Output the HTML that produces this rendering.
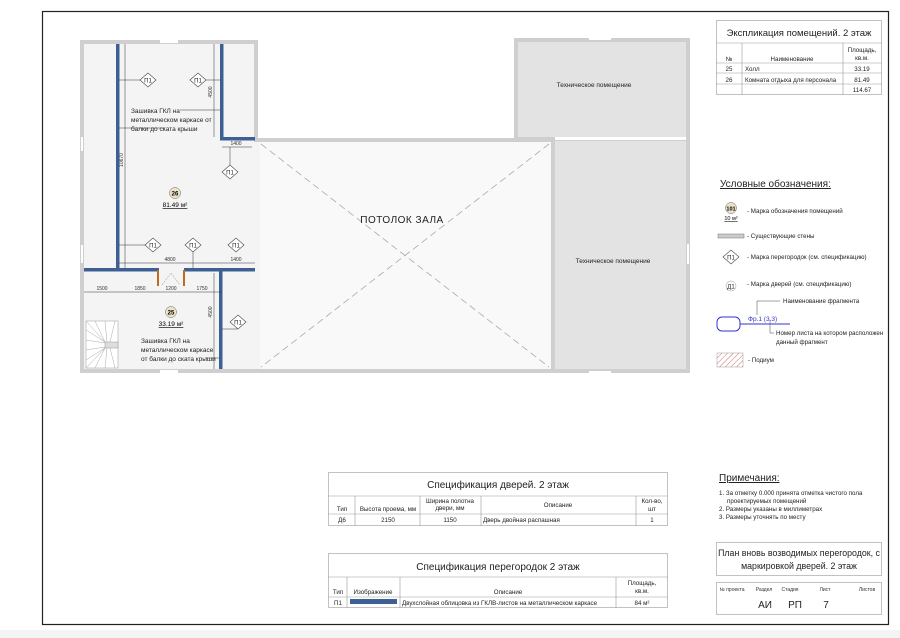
<!DOCTYPE html>
<html><head><meta charset="utf-8"><style>
body{margin:0;background:#f2f2f2;}
svg{display:block;font-family:"Liberation Sans",sans-serif;}
</style></head><body>
<svg width="900" height="638" viewBox="0 0 900 638" xmlns="http://www.w3.org/2000/svg">
<rect x="0" y="0" width="900" height="638" fill="#f4f4f4"/>
<rect x="0" y="0" width="900" height="630" fill="#fff"/>
<rect x="42.5" y="11.5" width="846" height="613" fill="#fff" stroke="#222" stroke-width="1.2"/>

<!-- left wing -->
<rect x="80" y="40" width="178" height="333" fill="#cfcfcf"/>
<rect x="84" y="44" width="170" height="325" fill="#f4f4f4"/>
<rect x="160" y="40" width="18" height="3" fill="#fff"/>
<rect x="160" y="370" width="18" height="3" fill="#fff"/>
<rect x="81" y="137" width="2" height="14" fill="#fff"/>
<rect x="81" y="245" width="2" height="18" fill="#fff"/>
<!-- tech rooms -->
<rect x="514" y="38" width="176" height="103" fill="#cfcfcf"/>
<rect x="551" y="138" width="139" height="235" fill="#cfcfcf"/>
<rect x="518" y="42" width="168" height="95" fill="#e3e3e3"/>
<rect x="555" y="141" width="131" height="228" fill="#e3e3e3"/>
<rect x="555" y="137" width="131" height="3" fill="#fff"/>
<rect x="589" y="38" width="22" height="2" fill="#fff"/>
<rect x="589" y="371" width="22" height="2" fill="#fff"/>
<rect x="687" y="244" width="2" height="20" fill="#fff"/>
<text x="594" y="87" font-size="6.5" text-anchor="middle" fill="#222">Техническое помещение</text>
<text x="613" y="263" font-size="6.5" text-anchor="middle" fill="#222">Техническое помещение</text>
<!-- hall -->
<rect x="255" y="138" width="300" height="235" fill="#cfcfcf"/>
<rect x="259" y="142" width="292" height="227" fill="#f9f9f9"/>
<rect x="254" y="142" width="6" height="227" fill="#f4f4f4"/>
<line x1="261" y1="144" x2="549" y2="367" stroke="#aaa" stroke-width="0.8" stroke-dasharray="7,4"/>
<line x1="549" y1="144" x2="261" y2="367" stroke="#aaa" stroke-width="0.8" stroke-dasharray="7,4"/>
<text x="402" y="223" font-size="10" text-anchor="middle" fill="#222" letter-spacing="0.5">ПОТОЛОК ЗАЛА</text>

<!-- partitions -->
<g fill="#3d5f93">
<rect x="116" y="44" width="3.5" height="226"/>
<rect x="220" y="44" width="3.5" height="96"/>
<rect x="220" y="137" width="35" height="3.5"/>
<rect x="84" y="268" width="75" height="3.5"/>
<rect x="184" y="268" width="71" height="3.5"/>
<rect x="219" y="271" width="3.5" height="98"/>
</g>
<rect x="157" y="270" width="2" height="16" fill="#c06a20"/>
<rect x="183" y="270" width="2" height="16" fill="#c06a20"/>
<path d="M162 285 L171 273 L180 285" fill="none" stroke="#888" stroke-width="0.5" stroke-dasharray="2,1"/>

<!-- dimension lines -->
<g stroke="#333" stroke-width="0.5" fill="none">
<line x1="125" y1="44" x2="125" y2="268"/>
<line x1="214" y1="44" x2="214" y2="137"/>
<line x1="222" y1="147" x2="252" y2="147"/>
<line x1="119" y1="263" x2="255" y2="263"/>
<line x1="84" y1="292" x2="222" y2="292"/>
<line x1="214" y1="273" x2="214" y2="369"/>
<line x1="119" y1="80" x2="141" y2="80"/>
<line x1="205" y1="80" x2="220" y2="80"/>
<line x1="180" y1="110" x2="220" y2="110"/>
<line x1="119" y1="128" x2="165" y2="128"/>
<line x1="230" y1="147" x2="230" y2="165"/>
<line x1="119" y1="245" x2="146" y2="245"/>
<line x1="193" y1="252" x2="193" y2="268"/>
<line x1="238" y1="329" x2="222" y2="329"/>
<line x1="205" y1="358" x2="219" y2="358"/>
</g>
<g font-size="5" fill="#333" text-anchor="middle">
<text x="170" y="261">4800</text><text x="236" y="261">1400</text>
<text x="102" y="290">1500</text><text x="140" y="290">1850</text><text x="171" y="290">1200</text><text x="202" y="290">1750</text>
<text x="236" y="145">1400</text>
<text transform="translate(212,92) rotate(-90)">4500</text>
<text transform="translate(212,312) rotate(-90)">4500</text>
<text transform="translate(123,160) rotate(-90)">10670</text>
</g>
<!-- diamonds -->
<g font-size="6" text-anchor="middle" fill="#222">
<g transform="translate(148,80)"><path d="M-8 0 L0 -7 L8 0 L0 7Z" fill="#fff" stroke="#444" stroke-width="0.6"/><text y="2.5">П1</text></g>
<g transform="translate(198,80)"><path d="M-8 0 L0 -7 L8 0 L0 7Z" fill="#fff" stroke="#444" stroke-width="0.6"/><text y="2.5">П1</text></g>
<g transform="translate(230,172)"><path d="M-8 0 L0 -7 L8 0 L0 7Z" fill="#fff" stroke="#444" stroke-width="0.6"/><text y="2.5">П1</text></g>
<g transform="translate(153,245)"><path d="M-8 0 L0 -7 L8 0 L0 7Z" fill="#fff" stroke="#444" stroke-width="0.6"/><text y="2.5">П1</text></g>
<g transform="translate(193,245)"><path d="M-8 0 L0 -7 L8 0 L0 7Z" fill="#fff" stroke="#444" stroke-width="0.6"/><text y="2.5">П1</text></g>
<g transform="translate(236,245)"><path d="M-8 0 L0 -7 L8 0 L0 7Z" fill="#fff" stroke="#444" stroke-width="0.6"/><text y="2.5">П1</text></g>
<g transform="translate(238,322)"><path d="M-8 0 L0 -7 L8 0 L0 7Z" fill="#fff" stroke="#444" stroke-width="0.6"/><text y="2.5">П1</text></g>
</g>
<g font-size="6.5" fill="#222">
<text x="131" y="113">Зашивка ГКЛ на</text>
<text x="131" y="122">металлическом каркасе  от</text>
<text x="131" y="131">балки до ската крыши</text>
<text x="141" y="343">Зашивка ГКЛ на</text>
<text x="141" y="352">металлическом каркасе</text>
<text x="141" y="361">от балки до ската крыши</text>
</g>
<circle cx="175" cy="193" r="5.5" fill="#ece3c8" stroke="#666" stroke-width="0.5"/>
<text x="175" y="195.5" font-size="6" font-weight="bold" text-anchor="middle">26</text>
<text x="175" y="207" font-size="6.5" text-anchor="middle" text-decoration="underline">81.49 м²</text>
<circle cx="171" cy="312" r="5.5" fill="#ece3c8" stroke="#666" stroke-width="0.5"/>
<text x="171" y="314.5" font-size="6" font-weight="bold" text-anchor="middle">25</text>
<text x="171" y="326" font-size="6.5" text-anchor="middle" text-decoration="underline">33.19 м²</text>
<!-- stairs -->
<rect x="86" y="321" width="32" height="47" fill="#fff" stroke="#999" stroke-width="0.5"/>
<g stroke="#aaa" stroke-width="0.5">
<line x1="86" y1="321" x2="105" y2="342"/><line x1="95" y1="321" x2="105" y2="342"/><line x1="105" y1="321" x2="107" y2="342"/>
<line x1="86" y1="330" x2="105" y2="342"/><line x1="86" y1="340" x2="105" y2="343"/>
<line x1="86" y1="350" x2="105" y2="347"/><line x1="86" y1="360" x2="105" y2="348"/>
<line x1="86" y1="368" x2="105" y2="348"/><line x1="95" y1="368" x2="105" y2="348"/><line x1="105" y1="368" x2="107" y2="348"/>
<line x1="115" y1="321" x2="110" y2="342"/><line x1="115" y1="368" x2="110" y2="348"/>
</g>
<rect x="105" y="342" width="13" height="6" fill="#ddd" stroke="#999" stroke-width="0.5"/>

<!-- explication table -->
<g stroke="#999" stroke-width="0.6" fill="none">
<rect x="716.5" y="20.5" width="165" height="74"/>
<line x1="716" y1="43" x2="882" y2="43"/><line x1="716" y1="63" x2="882" y2="63"/>
<line x1="716" y1="73" x2="882" y2="73"/><line x1="716" y1="84" x2="882" y2="84"/>
<line x1="742" y1="43" x2="742" y2="95"/><line x1="843" y1="43" x2="843" y2="95"/>
</g>
<g font-size="6.2" fill="#222">
<text x="799" y="36" font-size="9.5" text-anchor="middle">Экспликация помещений. 2 этаж</text>
<text x="729" y="61" text-anchor="middle">№</text>
<text x="792" y="61" text-anchor="middle">Наименование</text>
<text x="862" y="52" text-anchor="middle">Площадь,</text><text x="862" y="60" text-anchor="middle">кв.м.</text>
<text x="729" y="71" text-anchor="middle">25</text><text x="745" y="71">Холл</text><text x="862" y="71" text-anchor="middle">33.19</text>
<text x="729" y="82" text-anchor="middle">26</text><text x="745" y="82">Комната отдыха для персонала</text><text x="862" y="82" text-anchor="middle">81.49</text>
<text x="862" y="92" text-anchor="middle">114.67</text>
</g>

<!-- legend -->
<text x="720" y="187" font-size="10" fill="#222" text-decoration="underline">Условные обозначения:</text>
<circle cx="731" cy="208" r="5.5" fill="#ece3c8" stroke="#666" stroke-width="0.5"/>
<text x="731" y="210.5" font-size="5.5" font-weight="bold" text-anchor="middle">101</text>
<text x="731" y="220" font-size="5.5" text-anchor="middle" text-decoration="underline">10 м²</text>
<g font-size="6.2" fill="#222">
<text x="747" y="213">- Марка обозначения помещений</text>
<rect x="718" y="234" width="26" height="4" fill="#ccc" stroke="#777" stroke-width="0.5"/>
<text x="747" y="238">- Существующие стены</text>
<path d="M723 257 L731 250 L739 257 L731 264Z" fill="#fff" stroke="#444" stroke-width="0.6"/>
<text x="731" y="259.5" text-anchor="middle" font-size="6">П1</text>
<text x="747" y="259">- Марка перегородок (см. спецификацию)</text>
<circle cx="731" cy="286" r="5" fill="#fff" stroke="#999" stroke-width="0.5"/>
<text x="731" y="288.5" text-anchor="middle" font-size="6">Д1</text>
<text x="747" y="286">- Марка дверей (см. спецификацию)</text>
<text x="783" y="303">Наименование фрагмента</text>
<text x="776" y="335">Номер листа на котором расположен</text>
<text x="776" y="344">данный фрагмент</text>
<text x="748" y="362">- Подиум</text>
</g>
<line x1="757" y1="301" x2="780" y2="301" stroke="#444" stroke-width="0.5"/>
<line x1="757" y1="301" x2="757" y2="315" stroke="#444" stroke-width="0.5"/>
<line x1="770" y1="320" x2="770" y2="333" stroke="#444" stroke-width="0.5"/>
<line x1="770" y1="333" x2="774" y2="333" stroke="#444" stroke-width="0.5"/>
<rect x="717" y="317" width="23" height="14" rx="5" fill="none" stroke="#3333cc" stroke-width="1"/>
<line x1="740" y1="324" x2="790" y2="324" stroke="#3333cc" stroke-width="1"/>
<text x="748" y="321" font-size="6.5" fill="#3333cc">Фр.1 (3.3)</text>
<defs><pattern id="h" width="4" height="4" patternUnits="userSpaceOnUse" patternTransform="rotate(45)"><line x1="0" y1="0" x2="0" y2="4" stroke="#c87070" stroke-width="1"/></pattern></defs>
<rect x="717" y="353" width="26" height="14" fill="url(#h)" stroke="#999" stroke-width="0.5"/>

<!-- door spec -->
<g stroke="#999" stroke-width="0.6" fill="none">
<rect x="328.5" y="472.5" width="339" height="53"/>
<line x1="328" y1="496" x2="668" y2="496"/><line x1="328" y1="514" x2="668" y2="514"/>
<line x1="355" y1="496" x2="355" y2="526"/><line x1="420" y1="496" x2="420" y2="526"/>
<line x1="481" y1="496" x2="481" y2="526"/><line x1="636" y1="496" x2="636" y2="526"/>
</g>
<g font-size="6.2" fill="#222" text-anchor="middle">
<text x="498" y="488" font-size="10">Спецификация дверей. 2 этаж</text>
<text x="342" y="511">Тип</text><text x="388" y="511">Высота проема, мм</text>
<text x="450" y="503">Ширина полотна</text><text x="450" y="510">двери, мм</text>
<text x="558" y="507">Описание</text>
<text x="652" y="503">Кол-во,</text><text x="652" y="511">шт</text>
<text x="342" y="522">Д6</text><text x="388" y="522">2150</text><text x="450" y="522">1150</text>
<text x="483" y="522" text-anchor="start">Дверь двойная распашная</text><text x="652" y="522">1</text>
</g>
<!-- partition spec -->
<g stroke="#999" stroke-width="0.6" fill="none">
<rect x="328.5" y="553.5" width="339" height="54"/>
<line x1="328" y1="577" x2="668" y2="577"/><line x1="328" y1="597" x2="668" y2="597"/>
<line x1="347" y1="577" x2="347" y2="608"/><line x1="400" y1="577" x2="400" y2="608"/>
<line x1="616" y1="577" x2="616" y2="608"/>
</g>
<rect x="350" y="599" width="47" height="5" fill="#3d5f93"/>
<g font-size="6.2" fill="#222" text-anchor="middle">
<text x="498" y="570" font-size="10">Спецификация перегородок 2 этаж</text>
<text x="338" y="594">Тип</text><text x="373" y="594">Изображение</text><text x="508" y="594">Описание</text>
<text x="642" y="585">Площадь,</text><text x="642" y="593">кв.м.</text>
<text x="338" y="605">П1</text><text x="402" y="605" text-anchor="start">Двухслойная облицовка из ГКЛВ-листов на металлическом каркасе</text>
<text x="642" y="605">84 м²</text>
</g>

<!-- notes -->
<text x="719" y="481" font-size="10" fill="#222" text-decoration="underline">Примечания:</text>
<g font-size="6.2" fill="#222">
<text x="719" y="495">1.  За отметку 0.000 принята отметка чистого пола</text>
<text x="727" y="503">проектируемых помещений</text>
<text x="719" y="511">2.  Размеры указаны в миллиметрах</text>
<text x="719" y="519">3.  Размеры уточнять по месту</text>
</g>
<rect x="716.5" y="542.5" width="165" height="33" fill="none" stroke="#999" stroke-width="0.6"/>
<text x="799" y="556" font-size="8.8" text-anchor="middle" fill="#222">План вновь возводимых перегородок, с</text>
<text x="799" y="569" font-size="8.8" text-anchor="middle" fill="#222">маркировкой дверей. 2 этаж</text>
<rect x="716.5" y="582.5" width="165" height="32" fill="none" stroke="#999" stroke-width="0.6"/>
<g font-size="5" fill="#333" text-anchor="middle">
<text x="732" y="591">№ проекта</text><text x="764" y="591">Раздел</text><text x="790" y="591">Стадия</text><text x="825" y="591">Лист</text><text x="867" y="591">Листов</text>
</g>
<g font-size="10" fill="#222" text-anchor="middle">
<text x="765" y="608">АИ</text><text x="795" y="608">РП</text><text x="826" y="608">7</text>
</g>
</svg>
</body></html>
